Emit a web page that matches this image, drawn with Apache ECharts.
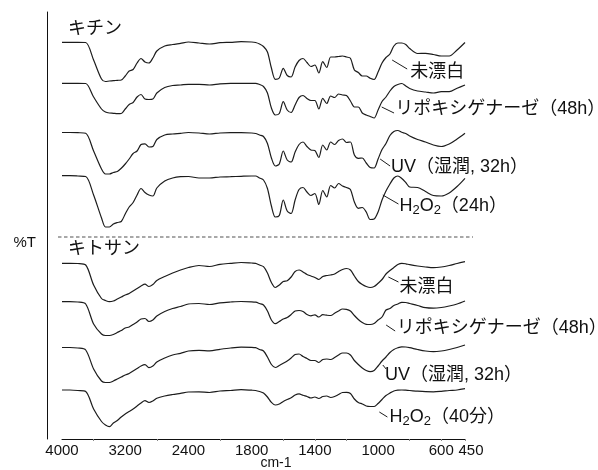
<!DOCTYPE html>
<html>
<head>
<meta charset="utf-8">
<script src="https://cdn.jsdelivr.net/npm/echarts@6/dist/echarts.min.js"></script>
<style>html,body{margin:0;padding:0;background:#fff}#c{width:598px;height:470px}</style>
</head>
<body>
<div id="c"></div>
<script>
// Wavenumber sample grid (cm-1)
const wavenumbers = [4000,3900,3800,3700,3600,3500,3450,3400,3350,3300,3250,3200,
  3150,3100,3050,3000,2950,2900,2850,2800,2700,2600,2500,2400,
  2300,2200,2100,2000,1900,1800,
  1775,1750,1725,1700,1675,1650,1625,1600,1575,1550,1525,1500,1475,1450,1425,1400,
  1375,1350,1325,1300,1275,1250,1225,1200,1175,1150,1125,1100,1075,1050,1025,1000,
  975,950,925,900,875,850,825,800,750,700,650,600,550,500,450];

// Axis label wavenumbers (equally spaced on the printed axis) and their slot positions
const labelWn  = [4000,3200,2400,1800,1400,1000,600,450];
const labelPos = [0,1,2,3,4,5,6,6.375];
const tickWn   = [3600,2800,2100,1600,1400,1200,800,600,450];

// %T (stacked, arbitrary units)
const chitinUntreated = [396.7,396.7,396.7,396.5,379,360,357.5,358,358.3,358.7,359,363,
  368,369.5,376,380.5,377,376,381,388,393,394.5,395.7,397,
  396,395,396.3,396.7,397.3,397,
  396.5,395,392.5,387,371,359.7,361,370.7,363.5,362,372,378.5,380.5,376.5,372.5,374,
  366,377.3,371.5,382,382,382.5,383,382,380.7,369,366.5,363,363,360.7,359.5,367,
  376,381.5,385,393,396,396,394.5,390.5,385.5,385.7,384.5,383,383,389,396.5];
const chitinLipox = [355.7,355.7,355.7,355.5,342,330,327,326,325.7,325.3,325.5,330,
  334.5,336.5,342,344.5,340,339.5,340,346,351.5,353.5,354,354.7,
  354.7,354,355.2,355.7,355.7,355.7,
  355.7,354.5,352.5,346,331,324,325.5,337.3,329,326.5,334,341.5,343.5,340.5,338.5,338.5,
  330,340.7,335.5,343,341.5,345,344,343.5,338,332,332,326,324,322.5,321,329,
  337.5,342,348,352.5,354.5,355.5,353,350.5,348,347,346,347.3,347.3,350.7,354];
const chitinUV = [306.5,306.5,306.3,305.7,288,270,265,265,266.5,267.5,270.7,275,
  280,285.5,288,294.5,295.2,292,292.5,299.5,304,305,305.7,306.5,
  306,305,306,306.3,306.3,306,
  305.5,304,302.5,295.5,281,273,275,288,279,277,287,294.5,297,292.5,289,288.5,
  281.5,294,289,297,294.5,298.5,300,296.5,297,284,280.7,281,276,271.5,271,280,
  289.5,295.5,303.5,307.5,308.5,306.7,305.5,303,299.5,297,294,292.5,295,300,305.7];
const chitinH2O2 = [263.3,263.3,263,262.5,244,221,212,212,215,216.5,217.5,225,
  232,236.5,244,250.5,246.5,244,243,251,258,261,262.3,262.5,
  261,261,262,262.3,262.7,263,
  263,261,259,250.5,233,222,223.5,239,228,225.5,239,249.5,251.5,247,243.5,245.5,
  234.5,248.5,242,253.5,251,255.5,253,251.5,249.5,237,230.7,231.5,227,219.5,220,227,
  239,248,255,261,263,260.5,256.5,252,251.5,247.5,243.5,243,246,252.5,260.7];
const chitosanUntreated = [175.7,175.7,175.5,174,154,140.5,138.5,137.3,138,140,142,144,
  145.5,148,150.5,153,154.8,152.5,154.5,158.5,162.5,166,169,171.5,
  173.5,172.5,174.7,175.7,176.5,176,
  175.7,174,172.3,166,156.5,151.5,154,157.5,158.3,162,167.5,169,167,164.5,163,161.5,
  159.5,162.5,163.5,164,165,167.5,169.5,170.5,169,163,157.5,154.5,152.5,151.5,152.5,155.7,
  159.5,165,168.5,171.5,174.5,175.7,175.2,174.3,173,172,171.3,172,173.5,175.5,177.3];
const chitosanLipox = [137.3,137.3,137,135,115,105,103.5,103.5,104.5,106.5,108.5,111,
  112,114.5,117,120,120.5,117.5,119,123,127.5,130.5,132.5,135,
  135.5,134.5,136.2,137,137.5,137.2,
  136.8,135.5,134,128,119,115.3,117.5,120,121.5,124.5,128,128.5,127.5,124.5,123.2,124.2,
  122,124.3,123.8,123.5,125.7,128,130,129.7,128,123.5,119.5,116.5,114.7,114.5,115.5,119,
  122,129,130.5,133.5,135,136.7,136.5,135.5,133.5,131.3,130.8,131.5,133,135,138];
const chitosanUV = [91.5,91.5,91,89,70,58,56.5,56.5,58,60,62,64,
  65.5,68,70.5,73,74.3,71.3,73,77,81,84,85.7,88,
  88.7,88.2,89.7,91,91.8,91.7,
  91.3,89.5,88,82,74.5,71.5,73.5,75.7,78,81,84.5,85,82.5,80.5,78.5,78.5,
  76.5,79.5,80,79.5,81.5,84,86,86,84,78.5,74.5,71,68.5,67.3,68.5,73,
  78,82,86.5,89.5,91.2,92.2,92,91.3,89.5,88,87.3,88,89.5,91.5,94];
const chitosanH2O2 = [49,49,48.5,47.5,30,17.5,14,12.3,16,18.5,22,25,
  27.5,30,33,36,38.3,36.5,38,40.7,43,44.5,45.7,47,
  47.2,46.5,48,48.5,49.3,48.8,
  48.5,47.5,46,42,36.7,34,35,37.5,39.5,41.2,44,45.2,43.7,42.5,41,42,
  40.5,42.5,43,41.5,42.5,44.5,46.5,46.7,45.5,40,36.5,35,33,32.5,32.5,35.5,
  39.5,43.5,46,48,48.8,49,48.8,48.5,47.8,47.3,47.2,47.7,48.5,49,50.3];

const spectra = [chitinUntreated, chitinLipox, chitinUV, chitinH2O2,
                 chitosanUntreated, chitosanLipox, chitosanUV, chitosanH2O2];

const seriesLabels = ['未漂白','リポキシゲナーゼ（48h）','UV（湿潤, 32h）','{a|H}{s|2}{a|O}{s|2}{a|（24h）}',
                      '未漂白','リポキシゲナーゼ（48h）','UV（湿潤, 32h）','{a|H}{s|2}{a|O}{s|2}{a|（40分）}'];
// leader line [from, to] and label anchor, in [cm-1, %T]
const leaderFrom = [[911,379],[977,332],[987,280],[970,244],[935,162],[949,114],[970,74],[992,27]];
const leaderTo   = [[816,370],[899,326],[924,273],[871,235],[871,157],[892,108],[949,70],[941,22]];
const labelAt    = [[797,367],[892,330],[918,272],[865,233],[865,151.5],[882,111],[956,64],[928,22]];
const groupNames = ['キチン','キトサン'];
const groupAt    = [[3924,410],[3924,190]];
const dividerT   = 202;
const yTitle     = '%T';
const yTitleAt   = 196;

// piecewise map from wavenumber to printed-axis slot position
function pos(wn){
  for (let i=0;i<labelWn.length-1;i++){
    const a=labelWn[i], b=labelWn[i+1];
    if (wn<=a && wn>=b) return labelPos[i]+(a-wn)/(a-b)*(labelPos[i+1]-labelPos[i]);
  }
  if (wn>labelWn[0]) return labelPos[0]-(wn-labelWn[0])/(labelWn[0]-labelWn[1]);
  return labelPos[labelPos.length-1];
}

const FONT = "'Liberation Sans','Noto Sans CJK JP',sans-serif";
const TXT = '#111';
const richStyle = {
  a:{fontSize:18,fontFamily:FONT,color:TXT,lineHeight:22},
  s:{fontSize:13,fontFamily:FONT,color:TXT,lineHeight:13,verticalAlign:'bottom'}
};

const series = spectra.map((vals,i)=>{
  const mp = [{coord:[pos(labelAt[i][0]),labelAt[i][1]], labelText:seriesLabels[i]}];
  if (i===0) mp.push({coord:[pos(groupAt[0][0]),groupAt[0][1]], labelText:groupNames[0]});
  if (i===4) mp.push({coord:[pos(groupAt[1][0]),groupAt[1][1]], labelText:groupNames[1]});
  return {
    type:'line',
    data: wavenumbers.map((w,k)=>[pos(w),vals[k]]),
    showSymbol:false,
    smooth:0.3,
    lineStyle:{color:'#1c1c1c',width:1.2},
    silent:true,
    markLine:{
      silent:true, symbol:['none','none'], label:{show:false},
      lineStyle:{color:'#1c1c1c',width:1,type:'solid'},
      data:[[{coord:[pos(leaderFrom[i][0]),leaderFrom[i][1]]},{coord:[pos(leaderTo[i][0]),leaderTo[i][1]]}]]
    },
    markPoint:{
      silent:true, symbol:'circle', symbolSize:0, itemStyle:{color:'transparent'},
      label:{show:true,position:'right',distance:0,color:TXT,fontSize:18,fontFamily:FONT,
        formatter:(p)=>p.data.labelText, rich:richStyle},
      data:mp
    }
  };
});

const chart = echarts.init(document.getElementById('c'),null,{renderer:'canvas'});
chart.setOption({
  animation:false,
  backgroundColor:'#fff',
  grid:{left:62,right:133,top:12,bottom:31,containLabel:false,outerBoundsMode:'none'},
  xAxis:{
    type:'value', min:0, max:labelPos[labelPos.length-1],
    name:'cm-1', nameLocation:'middle', nameGap:17, nameMoveOverlap:false,
    nameTextStyle:{fontSize:14,fontFamily:FONT,color:TXT,padding:[0,0,0,25]},
    axisLine:{show:true,onZero:false,lineStyle:{color:'#111',width:1}},
    axisTick:{show:true,length:2,lineStyle:{color:'#888'},customValues:tickWn.map(pos)},
    splitLine:{show:false},
    axisLabel:{
      show:true, margin:4, fontSize:15, fontFamily:FONT, color:TXT,
      customValues:labelPos.slice(),
      formatter:(v)=>{
        const i = labelPos.findIndex(p=>Math.abs(p-v)<1e-6);
        if (i<0) return '';
        return i===labelPos.length-1 ? '{e|'+labelWn[i]+'}' : String(labelWn[i]);
      },
      rich:{e:{fontSize:15,fontFamily:FONT,color:TXT,padding:[0,0,0,12]}}
    }
  },
  yAxis:{
    type:'value', min:0, max:427, offset:15,
    axisLine:{show:true,onZero:false,lineStyle:{color:'#111',width:1}},
    axisTick:{show:false}, axisLabel:{show:false}, splitLine:{show:false}
  },
  series
});
const yDiv = chart.convertToPixel({gridIndex:0},[0,dividerT])[1];
const yT = chart.convertToPixel({gridIndex:0},[0,yTitleAt])[1];
chart.setOption({graphic:[
  {type:'line',silent:true,
   shape:{x1:58,y1:yDiv,x2:473,y2:yDiv},
   style:{stroke:'#8c8c8c',lineWidth:1.3,lineDash:[3.5,2.5]}},
  {type:'text',silent:true,x:36,y:yT,
   style:{text:yTitle,fill:TXT,font:"15px 'Liberation Sans',sans-serif",align:'right',verticalAlign:'middle'}}
]});
</script>
</body>
</html>
